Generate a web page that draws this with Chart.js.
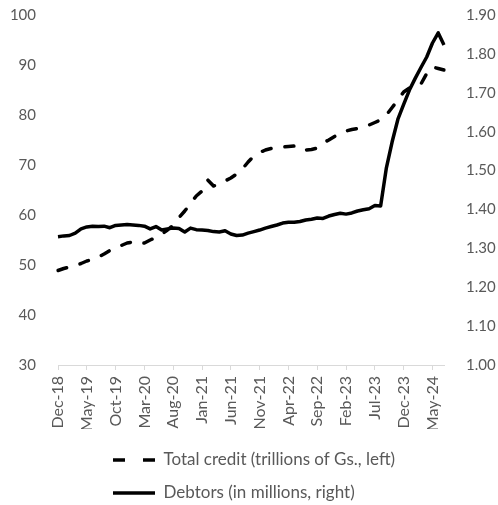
<!DOCTYPE html>
<html>
<head>
<meta charset="utf-8">
<script src="https://cdn.jsdelivr.net/npm/chart.js@4.4.1/dist/chart.umd.min.js"></script>
<style>
  html, body { margin: 0; padding: 0; background: #fff; }
  #wrap { width: 498px; height: 505px; }
</style>
</head>
<body>
<div id="wrap"><canvas id="chart" width="498" height="505"></canvas></div>
<script>
// monthly observations, Dec-18 .. Jul-24
var months = [
  'Dec-18','Jan-19','Feb-19','Mar-19','Apr-19','May-19','Jun-19','Jul-19','Aug-19','Sep-19','Oct-19','Nov-19',
  'Dec-19','Jan-20','Feb-20','Mar-20','Apr-20','May-20','Jun-20','Jul-20','Aug-20','Sep-20','Oct-20','Nov-20',
  'Dec-20','Jan-21','Feb-21','Mar-21','Apr-21','May-21','Jun-21','Jul-21','Aug-21','Sep-21','Oct-21','Nov-21',
  'Dec-21','Jan-22','Feb-22','Mar-22','Apr-22','May-22','Jun-22','Jul-22','Aug-22','Sep-22','Oct-22','Nov-22',
  'Dec-22','Jan-23','Feb-23','Mar-23','Apr-23','May-23','Jun-23','Jul-23','Aug-23','Sep-23','Oct-23','Nov-23',
  'Dec-23','Jan-24','Feb-24','Mar-24','Apr-24','May-24','Jun-24','Jul-24'
];

// trillions of Gs. (left axis)
var totalCredit = [
  48.9, 49.3, 49.6, 49.9, 50.3, 50.8, 51.1, 51.6, 52.2, 52.9, 53.4, 53.9,
  54.4, 54.6, 54.2, 54.4, 55.0, 55.5, 56.2, 57.0, 58.0, 59.5, 60.8, 62.3,
  63.8, 64.8, 67.0, 65.8, 66.2, 66.8, 67.4, 68.2, 69.2, 70.6, 71.8, 72.5,
  73.0, 73.3, 73.5, 73.6, 73.7, 73.8, 73.8, 73.0, 73.1, 73.4, 74.4, 75.0,
  75.7, 76.2, 76.8, 77.1, 77.3, 77.6, 78.0, 78.5, 79.0, 80.0, 81.5, 83.0,
  84.6, 85.4, 85.5, 86.2, 88.3, 89.6, 89.3, 89.0
];

// millions of debtors (right axis)
var debtors = [
  1.330, 1.332, 1.333, 1.339, 1.350, 1.355, 1.357, 1.356, 1.357, 1.353, 1.359, 1.360,
  1.361, 1.360, 1.359, 1.357, 1.350, 1.356, 1.347, 1.350, 1.352, 1.351, 1.342, 1.352,
  1.348, 1.347, 1.346, 1.343, 1.342, 1.345, 1.337, 1.333, 1.334, 1.339, 1.343, 1.347,
  1.352, 1.356, 1.360, 1.365, 1.367, 1.367, 1.369, 1.373, 1.375, 1.378, 1.377, 1.383,
  1.387, 1.390, 1.388, 1.391, 1.396, 1.399, 1.402, 1.410, 1.409, 1.507, 1.574, 1.632,
  1.670, 1.707, 1.737, 1.765, 1.792, 1.828, 1.854, 1.823
];

var seriesNames = ['Total credit (trillions of Gs., left)', 'Debtors (in millions, right)'];
var labelEvery = 5;

Chart.defaults.font.family = 'Lato';
Chart.defaults.font.size = 15;
Chart.defaults.color = '#595959';

var legendFont = 17;
var legendPad = 16;

// put both legend rows on a common left edge
var legendPlacer = {
  id: 'legendPlacer',
  afterLayout: function(chart) {
    var lg = chart.legend;
    lg.left = 113 - legendPad;
    lg.top = 460 - legendPad - legendFont / 2;
  }
};

var ctx = document.getElementById('chart').getContext('2d');
var chart = new Chart(ctx, {
  type: 'line',
  data: {
    labels: months,
    datasets: [{
      label: seriesNames[0],
      data: totalCredit,
      yAxisID: 'yLeft',
      borderColor: '#000',
      borderWidth: 3.5,
      borderDash: [9, 14],
      borderCapStyle: 'round',
      borderJoinStyle: 'round',
      pointRadius: 0,
      tension: 0
    }, {
      label: seriesNames[1],
      data: debtors,
      yAxisID: 'yRight',
      borderColor: '#000',
      borderWidth: 3.5,
      borderCapStyle: 'butt',
      borderJoinStyle: 'round',
      pointRadius: 0,
      tension: 0
    }]
  },
  options: {
    responsive: false,
    animation: false,
    layout: { padding: { top: 15, left: 0, right: 0, bottom: 0 } },
    plugins: {
      tooltip: { enabled: false },
      legend: {
        position: 'bottom',
        align: 'start',
        labels: {
          usePointStyle: true,
          pointStyle: 'line',
          pointStyleWidth: 42,
          boxHeight: 15,
          padding: legendPad,
          color: '#595959',
          font: { size: legendFont },
          generateLabels: function(c) {
            var items = Chart.defaults.plugins.legend.labels.generateLabels(c);
            items.forEach(function(it) {
              var ds = c.data.datasets[it.datasetIndex];
              it.lineDash = ds.borderDash ? [12, 18] : [];
              it.lineCap = 'butt';
              it.lineWidth = 3.5;
              it.strokeStyle = '#000';
              it.fillStyle = '#000';
            });
            return items;
          }
        }
      }
    },
    scales: {
      x: {
        offset: false,
        border: { color: '#d9d9d9', width: 1 },
        grid: {
          drawOnChartArea: false,
          tickLength: 5,
          color: function(c) { return c.index % labelEvery === 0 ? '#d9d9d9' : 'rgba(0,0,0,0)'; }
        },
        ticks: {
          autoSkip: false,
          minRotation: 90,
          maxRotation: 90,
          padding: 6,
          font: { size: 16 },
          callback: function(v, i) { return i % labelEvery === 0 ? months[i] : ''; }
        },
        afterFit: function(s) { s.height = 64; }
      },
      yLeft: {
        position: 'left',
        min: 30, max: 100,
        border: { display: false },
        grid: { display: false, drawTicks: true, tickLength: 18 },
        ticks: { stepSize: 10, padding: 4 },
        afterFit: function(s) { s.width = 58; }
      },
      yRight: {
        position: 'right',
        min: 1.0, max: 1.9,
        border: { display: false },
        grid: { display: false, drawTicks: true, tickLength: 18 },
        ticks: {
          stepSize: 0.1,
          padding: 4,
          callback: function(v) { return Number(v).toFixed(2); }
        },
        afterFit: function(s) { s.width = 54; }
      }
    }
  },
  plugins: [legendPlacer]
});
</script>
</body>
</html>
